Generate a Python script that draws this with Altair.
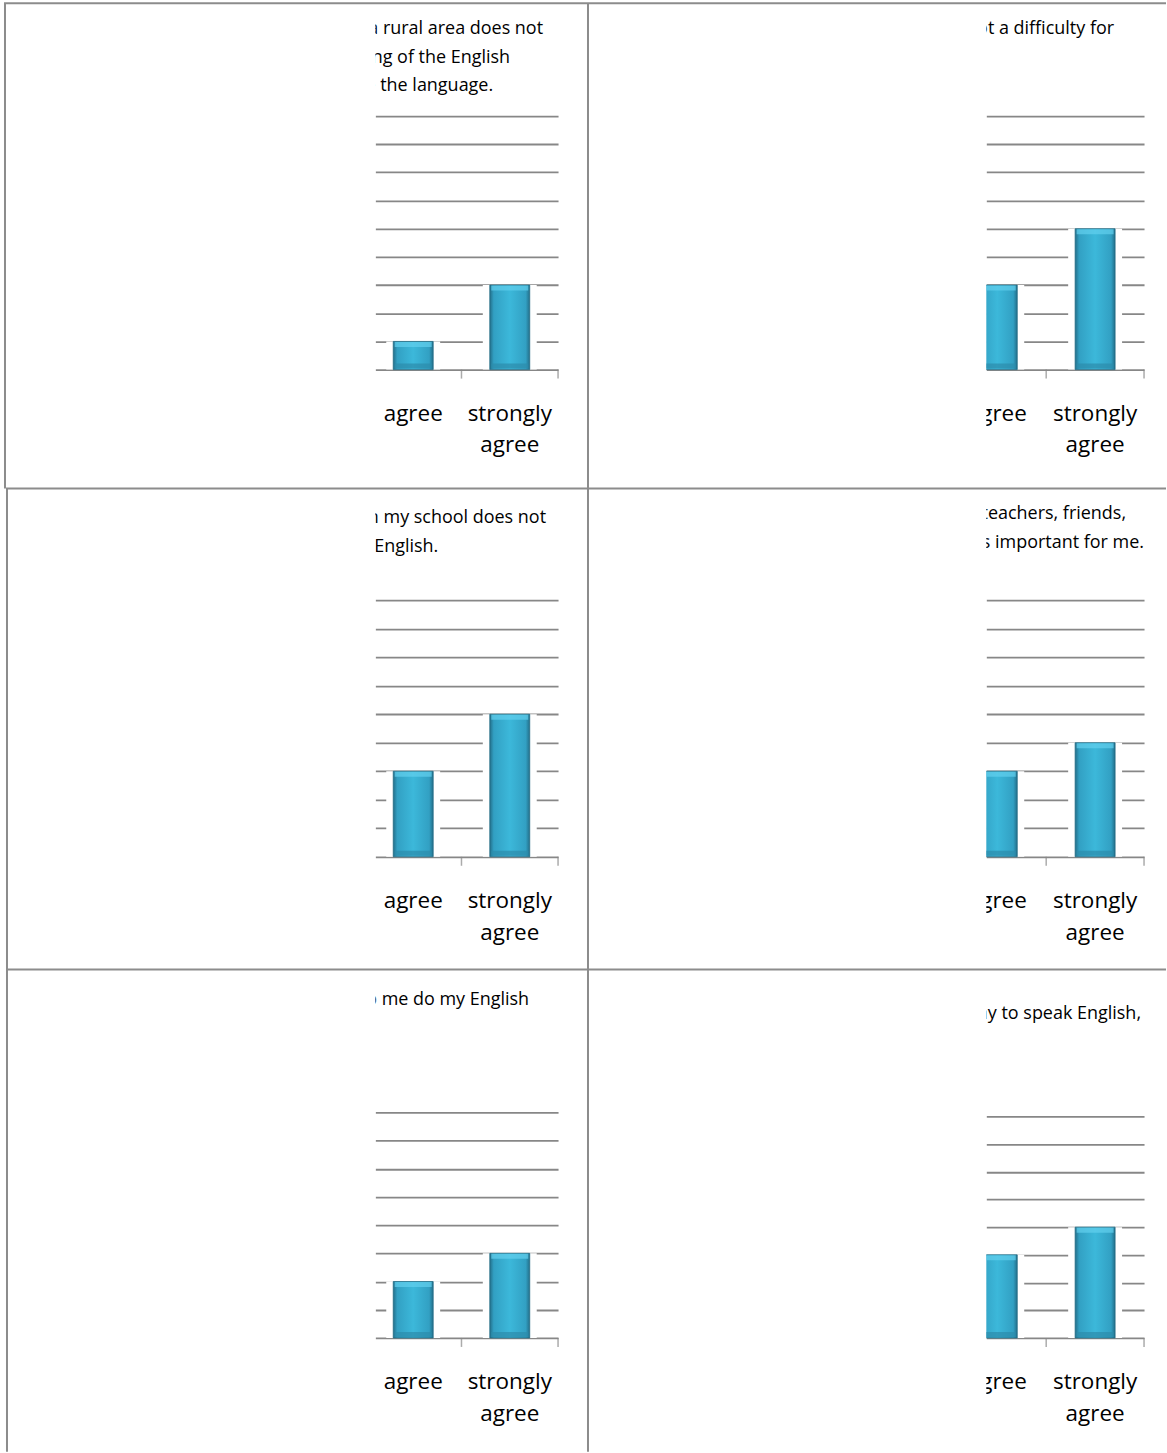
import altair as alt
import pandas as pd

# ---------------- data ----------------
categories = ["agree", "strongly agree"]
category_labels = ["agree", "strongly\nagree"]
panel_values = [
    [1, 3],
    [3, 5],
    [3, 5],
    [3, 4],
    [2, 3],
    [3, 4],
]
panel_axis_max = [9, 9, 9, 9, 8, 8]
panel_titles = [
    ["in a rural area does not", "learning of the English", "use the language."],
    ["is not a difficulty for"],
    ["in my school does not", "learn English."],
    ["teachers, friends,", "is important for me."],
    ["help me do my English"],
    ["way to speak English,"],
]

# ---------------- layout (pixels, page coordinates) ----------------
COL_X0 = [375, 987]          # visible left edge of each chart (crop line)
COL_X1 = [558, 1145]         # right end of the gridlines
COL_DOMAIN_MIN = [-0.392, -0.112]
ROW_TOP = [2, 488, 970]
ROW_BOTTOM = [488, 970, 1453]
AXIS_Y = [369, 857, 1339]
TOP_GRID_Y = [[115, 115], [600, 600], [1113, 1117]]
TITLE_POS = [
    [(543, 33), (510, 62), (493, 90)],
    [(1115, 33)],
    [(546, 523), (438, 552)],
    [(1127, 519), (1145, 548)],
    [(529, 1005)],
    [(1142, 1020)],
]
LEFT_BORDER_X = [4, 6, 6]
MID_BORDER_X = 588
RIGHT_EDGE = 1167

FONT = "Open Sans"
GRID = "#878787"
BORDER = "#8c8c8c"

bar_gradient = alt.LinearGradient(
    gradient="linear",
    x1=0, x2=1, y1=0, y2=0,
    stops=[
        alt.GradientStop(offset=0.0, color="#236f8a"),
        alt.GradientStop(offset=0.1, color="#32a0c3"),
        alt.GradientStop(offset=0.5, color="#3cb8da"),
        alt.GradientStop(offset=0.9, color="#32a0c3"),
        alt.GradientStop(offset=1.0, color="#236f8a"),
    ],
)


def panel(i):
    row, col = divmod(i, 2)
    x0, x1 = COL_X0[col], COL_X1[col]
    top, bottom = ROW_TOP[row], ROW_BOTTOM[row]
    width = x1 - x0
    height = bottom - top
    axis_y = AXIS_Y[row] - top
    top_y = TOP_GRID_Y[row][col] - top
    vmax = panel_axis_max[i]

    xs = alt.Scale(domain=[COL_DOMAIN_MIN[col], 1.5], nice=False, zero=False, padding=0)
    ys = alt.Scale(domain=[0, vmax], range=[axis_y, top_y], nice=False, padding=0)

    df = pd.DataFrame({
        "idx": list(range(len(categories))),
        "category": categories,
        "label": category_labels,
        "value": panel_values[i],
        "zero": [0] * len(categories),
        "panel": [i] * len(categories),
    })
    bounds_df = pd.DataFrame({"b": [k + 0.5 for k in range(len(categories))],
                              "zero": [0] * len(categories),
                              "panel": [i] * len(categories)})

    base = alt.Chart(df)
    X = alt.X("idx:Q", scale=xs, axis=None)
    glow = base.mark_bar(size=54, color="white", orient="vertical", clip=True).encode(
        x=X,
        y=alt.Y("value:Q", scale=ys,
                axis=alt.Axis(values=list(range(vmax + 1)), grid=True, labels=False,
                              ticks=False, domain=False, title=None,
                              gridColor=GRID, gridWidth=1.8, gridOpacity=1)),
    )
    bars = base.mark_bar(size=40, color=bar_gradient, stroke="#1f6a83", strokeWidth=0.8,
                         orient="vertical", clip=True).encode(
        x=X,
        y=alt.Y("value:Q", scale=ys),
    )
    top_cap = base.mark_tick(orient="horizontal", size=37, thickness=5, yOffset=3,
                             color="#62d0ee", clip=True).encode(
        x=X, y=alt.Y("value:Q", scale=ys))
    bottom_cap = base.mark_tick(orient="horizontal", size=37, thickness=5, yOffset=-3.5,
                                color="#2c8cab", clip=True).encode(
        x=X, y=alt.Y("zero:Q", scale=ys))
    ticks = alt.Chart(bounds_df).mark_tick(orient="vertical", size=9, yOffset=4.5,
                                           thickness=1.5, color=GRID).encode(
        x=alt.X("b:Q", scale=xs, axis=None),
        y=alt.Y("zero:Q", scale=ys),
    )
    labels = base.mark_text(fontSize=22.5, font=FONT, align="center", baseline="alphabetic",
                            lineBreak="\n", lineHeight=32, color="#000000", clip=True).encode(
        x=X,
        y=alt.value(axis_y + 51),
        text="label:N",
    )
    layers = [glow, bars, top_cap, bottom_cap, ticks, labels]

    for line, (tx, ty) in zip(panel_titles[i], TITLE_POS[i]):
        layers.append(
            alt.Chart(pd.DataFrame({"t": [line], "panel": [i]})).mark_text(
                fontSize=18, font=FONT, align="right", baseline="alphabetic",
                color="#000000", clip=True,
            ).encode(x=alt.value(tx - x0), y=alt.value(ty - top), text="t:N")
        )

    # table cell borders
    def hline(xa, xb, y):
        return alt.Chart(pd.DataFrame({"k": [i]})).mark_rule(color=BORDER, strokeWidth=2).encode(
            x=alt.value(xa - x0), x2=alt.value(xb - x0), y=alt.value(y - top))

    def vline(x, ya, yb):
        return alt.Chart(pd.DataFrame({"k": [i]})).mark_rule(color=BORDER, strokeWidth=2).encode(
            x=alt.value(x - x0), y=alt.value(ya - top), y2=alt.value(yb - top))

    if col == 0:
        layers.append(hline(LEFT_BORDER_X[row] - 1, MID_BORDER_X, top))
        layers.append(vline(LEFT_BORDER_X[row], top, bottom))
        layers.append(vline(MID_BORDER_X, top, bottom))
    else:
        layers.append(hline(MID_BORDER_X, RIGHT_EDGE, top))

    return alt.layer(*layers).properties(width=width, height=height)


chart = alt.concat(
    *[panel(i) for i in range(6)],
    columns=2,
    spacing={"row": 0, "column": COL_X0[1] - COL_X1[0]},
    bounds="flush",
    align="each",
).resolve_scale(x="independent", y="independent").properties(
    padding={"left": 3, "top": 1, "right": 0, "bottom": 0},
    background="white",
).configure_view(stroke=None)

chart.save("out.html", embed_options={"renderer": "svg", "actions": False})
